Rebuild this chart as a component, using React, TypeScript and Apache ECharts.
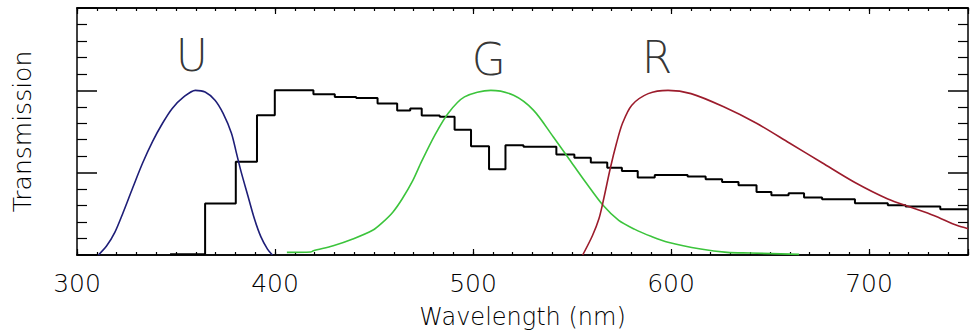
import React, { useEffect, useRef } from "react";
import * as echarts from "echarts";

// Wavelength (nm) / transmission pairs
const uFilter: [number, number][] = [
  [310.8, 0], [315.0, 0.056], [319.1, 0.137], [323.3, 0.258], [328.2, 0.41], [333.2, 0.56],
  [338.2, 0.69], [343.2, 0.8], [348.1, 0.89], [353.9, 0.96], [359.8, 1.0], [364.7, 0.99],
  [369.7, 0.94], [373.8, 0.86], [378.0, 0.74], [380.5, 0.62], [383.0, 0.5], [386.3, 0.36],
  [389.6, 0.22], [392.9, 0.11], [396.2, 0.036], [398.7, 0],
];

const gFilter: [number, number][] = [
  [406, 0.016], [418, 0.018], [419.4, 0.026], [429.4, 0.056], [439.3, 0.097], [449.3, 0.15],
  [454.5, 0.2], [459.5, 0.26], [464.2, 0.34], [469.5, 0.45], [474.1, 0.57], [480.8, 0.73],
  [487.4, 0.86], [495.7, 0.96], [509.0, 1.0], [520.5, 0.97], [530.5, 0.88], [540.4, 0.72],
  [548.7, 0.58], [557.0, 0.44], [565.8, 0.3], [573.6, 0.21], [581.5, 0.157], [590.2, 0.112],
  [598.5, 0.077], [615, 0.036], [628.3, 0.016], [640, 0.012], [664.7, 0.004],
];

const rFilter: [number, number][] = [
  [555.4, 0], [560.3, 0.117], [563.6, 0.22], [566.0, 0.34], [569.4, 0.53], [572.5, 0.68],
  [575.5, 0.8], [580.2, 0.91], [588.5, 0.98], [598.5, 1.0], [610.1, 0.98], [626.6, 0.9],
  [643.2, 0.8], [659.8, 0.68], [676.3, 0.56], [692.9, 0.44], [709.5, 0.34], [721.1, 0.29],
  [732.7, 0.24], [744.3, 0.18], [750, 0.16],
];

// step curve: start of each bin and its value
const atmosphere: [number, number][] = [
  [347, 0.004], [364.7, 0.313], [380.2, 0.567], [390.9, 0.849], [399.9, 1.0], [419.4, 0.976],
  [430.2, 0.96], [441.0, 0.953], [451.8, 0.92], [461.7, 0.877], [468.3, 0.89], [474.1, 0.847],
  [483.2, 0.839], [490.7, 0.76], [499.0, 0.661], [508.1, 0.52], [516.4, 0.667], [525.5, 0.657],
  [542.1, 0.611], [551.2, 0.591], [559.5, 0.561], [567.8, 0.53], [575.2, 0.51], [583.2, 0.47],
  [591.8, 0.486], [608.4, 0.476], [617.5, 0.46], [625.8, 0.443], [634.1, 0.423], [643.2, 0.383],
  [650.7, 0.363], [659.4, 0.375], [667.2, 0.349], [676.3, 0.339], [692.9, 0.315], [709.5, 0.302],
  [718.5, 0.295], [736.0, 0.278], [750, 0.278],
];

const filterNames = ["U", "G", "R"];
const filterLabelX = [358, 508, 593];
const filterLabelY = [1.21, 1.19, 1.2];

const FONT = "DejaVu Sans";

export default function App() {
  const ref = useRef<HTMLDivElement>(null);
  useEffect(() => {
    if (!ref.current) return;
    const chart = echarts.init(ref.current, undefined, { renderer: "svg" });
    const baseX = {
      type: "value" as const,
      min: 300,
      max: 750,
      splitLine: { show: false },
      axisLine: { show: true, onZero: false, lineStyle: { color: "#000", width: 1.5 } },
    };
    const baseY = {
      type: "value" as const,
      min: 0,
      max: 1.5,
      interval: 0.5,
      splitLine: { show: false },
      axisLabel: { show: false },
      axisLine: { show: true, onZero: false, lineStyle: { color: "#000", width: 1.5 } },
      axisTick: { show: true, inside: true, length: 20, lineStyle: { color: "#000", width: 1.5 } },
      minorTick: { show: true, splitNumber: 5, length: 10, lineStyle: { color: "#000", width: 1.2 } },
    };
    chart.setOption({
      animation: false,
      backgroundColor: "#fff",
      grid: { left: 77, right: -11, top: 8, bottom: 78, containLabel: false },
      xAxis: [
        {
          ...baseX,
          position: "bottom",
          interval: 10,
          axisTick: { show: true, inside: true, length: 3, lineStyle: { color: "#000", width: 1.2 } },
          axisLabel: {
            show: true,
            margin: 16,
            fontSize: 25,
            fontFamily: FONT,
            fontWeight: 200,
            color: "#000",
            formatter: (v: number) => (v % 100 === 0 ? String(v) : ""),
          },
          name: "Wavelength (nm)",
          nameLocation: "middle",
          nameGap: 50,
          nameTextStyle: { fontSize: 24, fontFamily: FONT, fontWeight: 200, color: "#000" },
        },
        {
          ...baseX,
          position: "bottom",
          interval: 100,
          axisTick: { show: true, inside: true, length: 6, lineStyle: { color: "#000", width: 1.2 } },
          axisLabel: { show: false },
        },
        {
          ...baseX,
          position: "top",
          interval: 10,
          axisTick: { show: true, inside: true, length: 3, lineStyle: { color: "#000", width: 1.2 } },
          axisLabel: { show: false },
        },
        {
          ...baseX,
          position: "top",
          interval: 100,
          axisTick: { show: true, inside: true, length: 6, lineStyle: { color: "#000", width: 1.2 } },
          axisLabel: { show: false },
        },
      ],
      yAxis: [
        {
          ...baseY,
          position: "left",
          name: "Transmission",
          nameLocation: "middle",
          nameGap: 42,
          nameTextStyle: { fontSize: 25, fontFamily: FONT, fontWeight: 200, color: "#000" },
        },
        { ...baseY, position: "right" },
      ],
      series: [
        {
          type: "line",
          name: "atmosphere",
          data: atmosphere,
          step: "end",
          symbol: "none",
          lineStyle: { color: "#000", width: 2 },
          z: 3,
        },
        {
          type: "line",
          name: "U",
          data: uFilter,
          smooth: 0.3,
          symbol: "none",
          lineStyle: { color: "#1e1e78", width: 1.6 },
          z: 4,
        },
        {
          type: "line",
          name: "G",
          data: gFilter,
          smooth: 0.3,
          symbol: "none",
          lineStyle: { color: "#3cc43c", width: 1.6 },
          z: 4,
        },
        {
          type: "line",
          name: "R",
          data: rFilter,
          smooth: 0.3,
          symbol: "none",
          lineStyle: { color: "#9c1c2c", width: 1.6 },
          z: 4,
        },
        {
          type: "scatter",
          data: filterNames.map((n, i) => [filterLabelX[i], filterLabelY[i], n]),
          symbolSize: 1,
          itemStyle: { color: "rgba(0,0,0,0)" },
          label: {
            show: true,
            position: "inside",
            formatter: (p: any) => p.value[2],
            fontSize: 44,
            fontFamily: FONT,
            fontWeight: 200,
            color: "#000",
          },
          silent: true,
          z: 5,
        },
      ],
    });
    return () => chart.dispose();
  }, []);
  return (
    <div
      ref={ref}
      style={{ position: "fixed", left: 0, top: 0, width: 971, height: 334, background: "#fff" }}
    />
  );
}
